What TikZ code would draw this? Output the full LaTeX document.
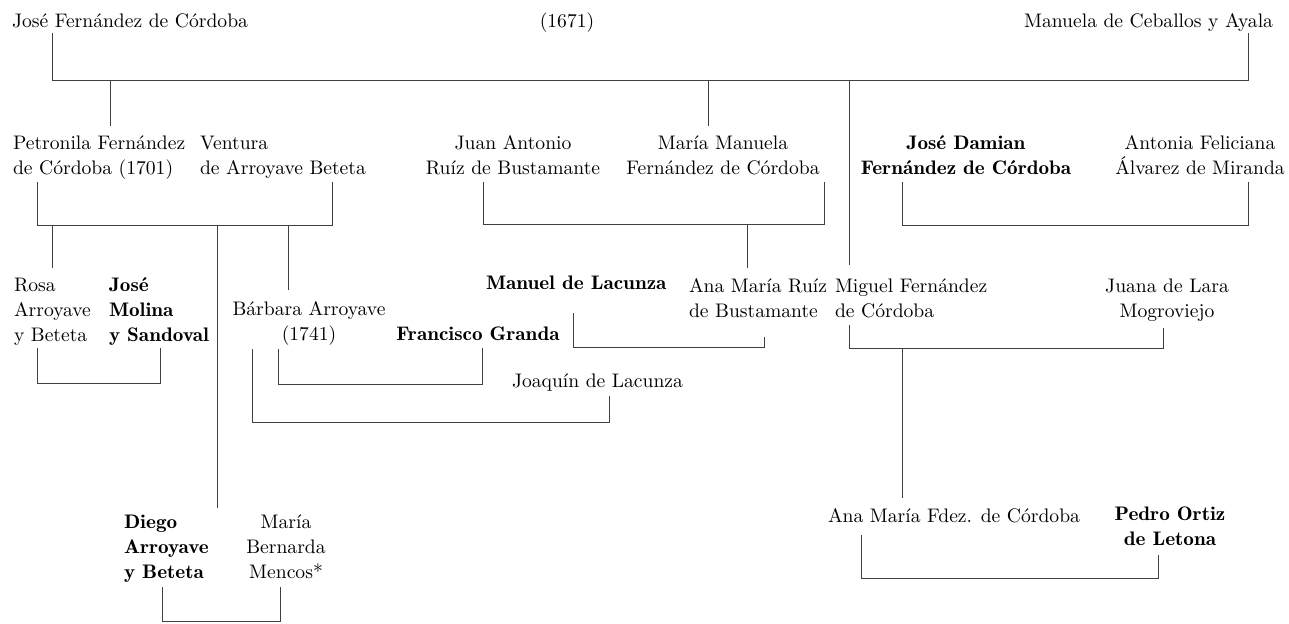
\documentclass[tikz,border=0pt]{standalone}
\usepackage{fontspec}
\newfontfamily\demifont[FakeStretch=1.08]{lmromandemi10-regular.otf}
\begin{document}
\begin{tikzpicture}[x=0.5pt, y=-0.5pt,
  person/.style={inner sep=0pt, outer sep=0pt, align=left,
                 font=\fontsize{9.8}{12.5}\selectfont},
  pcenter/.style={person, align=center, anchor=base},
  pleft/.style={person, anchor=base west},
  bold/.style={font=\fontsize{9.8}{12.5}\selectfont\demifont},
  link/.style={line width=0.5pt, draw=black!75}]
\useasboundingbox (0,0) rectangle (1289,623);
% first generation
\node[pleft] (jfc) at (12,27) {José Fernández de Córdoba};
\node[pcenter] (year) at (567,27) {(1671)};
\node[person, anchor=base east] (mcy) at (1273,27) {Manuela de Ceballos y Ayala};
% second generation
\node[pleft] (petronila) at (13,174) {Petronila Fernández\\de Córdoba (1701)};
\node[pleft] (ventura) at (200,174) {Ventura\\de Arroyave Beteta};
\node[pcenter] (juanantonio) at (513,174) {Juan Antonio\\Ruíz de Bustamante};
\node[pcenter] (mariamanuela) at (723,174) {María Manuela\\Fernández de Córdoba};
\node[pcenter, bold] (josedamian) at (966,174) {José Damian\\Fernández de Córdoba};
\node[pcenter] (antonia) at (1200,174) {Antonia Feliciana\\Álvarez de Miranda};
% third generation
\node[pleft] (rosa) at (14,341) {Rosa\\Arroyave\\y Beteta};
\node[pleft, bold] (molina) at (109,341) {José\\Molina\\y Sandoval};
\node[pcenter] (barbara) at (309,340) {Bárbara Arroyave\\(1741)};
\node[pcenter, bold] (granda) at (478,340) {Francisco Granda};
\node[pleft] (joaquin) at (512,387) {Joaquín de Lacunza};
\node[pleft, bold] (manuel) at (486,289) {Manuel de Lacunza};
\node[pleft] (anaruiz) at (689,317) {Ana María Ruíz\\de Bustamante};
\node[pleft] (miguel) at (835,317) {Miguel Fernández\\de Córdoba};
\node[pcenter] (juana) at (1167,317) {Juana de Lara\\Mogroviejo};
% fourth generation
\node[pleft, bold] (diego) at (124,578) {Diego\\Arroyave\\y Beteta};
\node[pcenter] (mencos) at (286,578) {María\\Bernarda\\Mencos*};
\node[pleft] (anafdez) at (828,522) {Ana María Fdez. de Córdoba};
\node[pcenter, bold] (pedro) at (1170,545) {Pedro Ortiz\\de Letona};
% marriages and descent
\draw[link] ([shift={(40,6)}]jfc.base west) |- ([shift={(-25,53)}]mcy.base east) -- ++(0,-47);
\draw[link] ([shift={(97,-48)}]petronila.base west) -- ++(0,-46);
\draw[link] ([shift={(-15,-48)}]mariamanuela.base) -- ++(0,-46);
\draw[link] ([shift={(14,-52)}]miguel.base west) -- ++(0,-185);
\draw[link] ([shift={(24,8)}]petronila.base west) |- ([shift={(132,51)}]ventura.base west) -- ++(0,-43);
\draw[link] ([shift={(38,-73)}]rosa.base west) -- ++(0,-43);
\draw[link] ([shift={(-21,-50)}]barbara.base) -- ++(0,-65);
\draw[link] ([shift={(93,-70)}]diego.base west) -- ++(0,-283);
\draw[link] ([shift={(23,7)}]rosa.base west) |- ([shift={(51,42)}]molina.base west) -- ++(0,-35);
\draw[link] ([shift={(-31,9)}]barbara.base) |- ([shift={(4,44)}]granda.base) -- ++(0,-36);
\draw[link] ([shift={(-57,9)}]barbara.base) |- ([shift={(97,35)}]joaquin.base west) -- ++(0,-26);
\draw[link] ([shift={(-30,8)}]juanantonio.base) |- ([shift={(101,50)}]mariamanuela.base) -- ++(0,-42);
\draw[link] ([shift={(58,-49)}]anaruiz.base west) -- ++(0,-44);
\draw[link] ([shift={(87,24)}]manuel.base west) |- ([shift={(75,30)}]anaruiz.base west) -- ++(0,-10);
\draw[link] ([shift={(-64,8)}]josedamian.base) |- ([shift={(48,51)}]antonia.base) -- ++(0,-43);
\draw[link] ([shift={(14,8)}]miguel.base west) |- ([shift={(-4,31)}]juana.base) -- ++(0,-20);
\draw[link] ([shift={(74,-24)}]anafdez.base west) -- ++(0,-150);
\draw[link] ([shift={(33,13)}]anafdez.base west) |- ([shift={(-12,33)}]pedro.base) -- ++(0,-23);
\draw[link] ([shift={(38,9)}]diego.base west) |- ([shift={(-6,43)}]mencos.base) -- ++(0,-34);
\end{tikzpicture}
\end{document}
